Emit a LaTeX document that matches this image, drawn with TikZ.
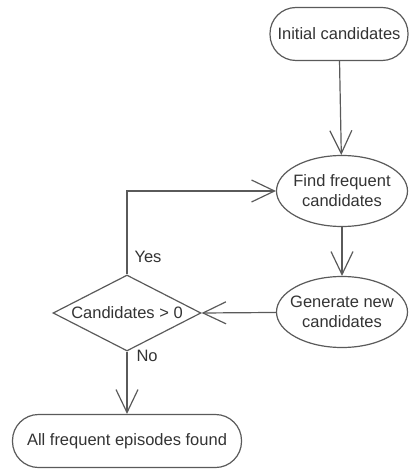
\documentclass[tikz,border=0pt]{standalone}
\usepackage{fontspec}
\setmainfont{Liberation Sans}
\usetikzlibrary{shapes.geometric,arrows.meta}
\definecolor{linegray}{HTML}{5A5A5A}
\definecolor{textgray}{HTML}{333333}
\begin{document}
\begin{tikzpicture}[x=1pt,y=-1pt,
  every node/.style={font=\fontsize{16.5}{20}\selectfont, text=textgray},
  every label/.style={font=\fontsize{16.5}{20}\selectfont, text=textgray, align=center, inner sep=0pt},
  terminal/.style={draw=linegray, line width=1.2pt, rounded corners=26pt, minimum height=53pt, inner sep=0pt},
  process/.style={draw=linegray, line width=1.2pt, ellipse, minimum width=131pt, minimum height=71pt, inner sep=0pt},
  decision/.style={draw=linegray, line width=1.2pt, diamond, minimum width=148pt, minimum height=76pt, inner sep=0pt},
  flow/.style={draw=linegray, line width=1.2pt, -{Straight Barb[length=23pt, width=22pt, line width=1.2pt]}},
  lbl/.style={font=\fontsize{16.5}{20}\selectfont}]
\useasboundingbox (0,0) rectangle (413,470);

\node[terminal, minimum width=138pt] (init) at (339,34) {Initial candidates};
\node[process, label={center:Find frequent\\candidates}] (find) at (342,191) {};
\node[process, label={center:Generate new\\candidates}] (gen) at (342,312) {};
\node[decision, label={center:Candidates > 0}] (cond) at (127,313) {};
\node[terminal, minimum width=229pt] (done) at (127,441) {All frequent episodes found};

\coordinate (bend) at (cond.north |- find.west);

\draw[flow] (init) -- (find);
\draw[flow] (find) -- (gen);
\draw[flow] (gen) -- (cond.east);
\draw[flow] (cond.north) -- (bend) -- (find.west);
\draw[flow] (cond.south) -- (done);

\node[lbl, anchor=west] (yes) at (131,257) {Yes};
\node[lbl, anchor=west] (no) at (133,356) {No};
\end{tikzpicture}
\end{document}
